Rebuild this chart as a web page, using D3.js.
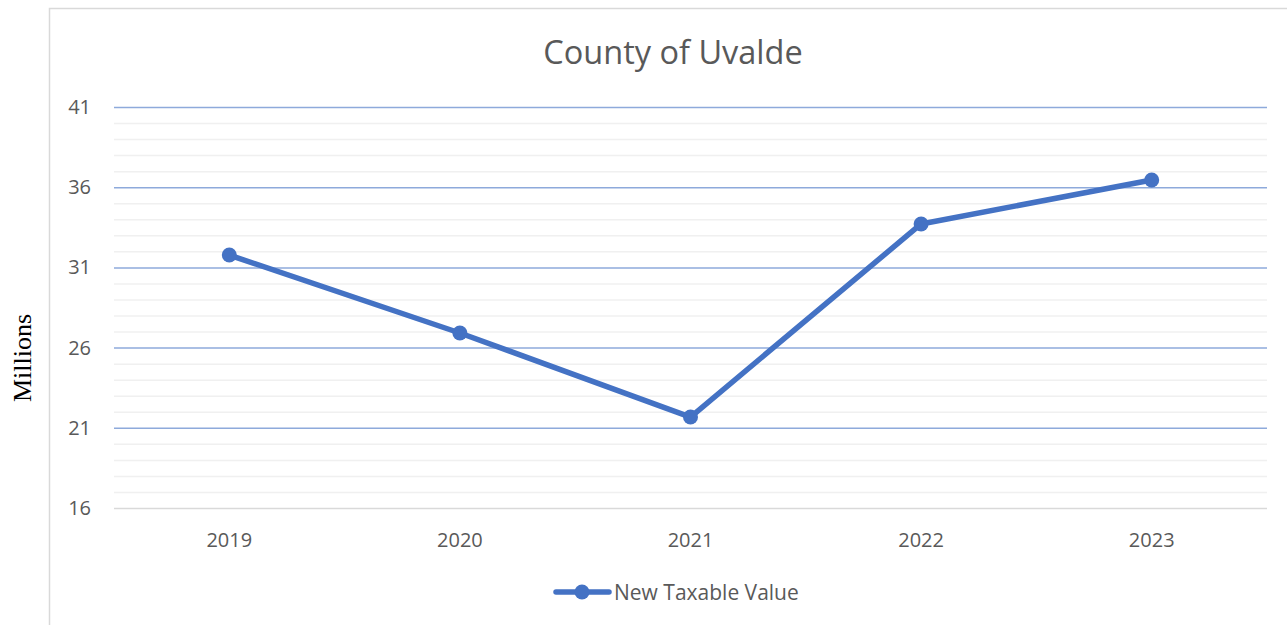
<!DOCTYPE html>
<html><head><meta charset="utf-8">
<script src="https://cdn.jsdelivr.net/npm/d3@7"></script>
<style>body{margin:0;background:#fff}svg{display:block}</style>
</head><body>
<script>
const categories = ["2019","2020","2021","2022","2023"];
const values = [31.77, 26.91, 21.67, 33.71, 36.45];
const yTicks = [16,21,26,31,36,41];
const seriesName = "New Taxable Value";
const titleText = "County of Uvalde";
const yLabel = "Millions";

const W=1287,H=625;
const FONT="'Open Sans', 'Noto Sans', sans-serif";
const svg=d3.select("body").append("svg").attr("width",W).attr("height",H);
const m={left:114,right:1267,top:107,bottom:508};
const x=d3.scaleBand().domain(categories).range([m.left,m.right]);
const y=d3.scaleLinear().domain([16,41]).range([m.bottom,m.top]);

// chart border
svg.append("path").attr("d",`M49.5,${H} V8.5 H${W}`).attr("fill","none").attr("stroke","#d9d9d9").attr("stroke-width",1.5);

// minor gridlines
const minor=d3.range(16,42,1).filter(v=>!yTicks.includes(v));
svg.append("g").call(d3.axisLeft(y).tickValues(minor).tickSize(-(m.right-m.left)).tickFormat(""))
  .attr("transform",`translate(${m.left},0)`)
  .call(g=>g.select(".domain").remove())
  .call(g=>g.selectAll("line").attr("stroke","#f0f0f0").attr("stroke-width",1.5));

// major gridlines + labels
svg.append("g").attr("transform",`translate(${m.left},0)`)
  .call(d3.axisLeft(y).tickValues(yTicks).tickSize(-(m.right-m.left)).tickPadding(23))
  .call(g=>g.select(".domain").remove())
  .call(g=>g.selectAll("line").attr("stroke",d=>d===16?"#d9d9d9":"#8eaadb").attr("stroke-width",1.5))
  .call(g=>g.selectAll("text").attr("fill","#595959").attr("font-size","20px").attr("font-family",FONT));

// x axis labels
svg.append("g").attr("transform",`translate(0,${m.bottom})`)
  .call(d3.axisBottom(x).tickSize(0).tickPadding(25))
  .call(g=>g.select(".domain").remove())
  .call(g=>g.selectAll("text").attr("fill","#595959").attr("font-size","20px").attr("font-family",FONT));

// title
svg.append("text").attr("x",673).attr("y",64).attr("text-anchor","middle")
  .attr("font-size","32.5px").attr("fill","#595959").attr("font-family",FONT).text(titleText);

// y label
svg.append("text").attr("transform",`translate(31,358) rotate(-90)`).attr("text-anchor","middle")
  .attr("font-size","26px").attr("fill","#000").attr("font-family","'Liberation Serif', serif").text(yLabel);

// line
const data=categories.map((c,i)=>({c,v:values[i]}));
const line=d3.line().x(d=>x(d.c)+x.bandwidth()/2).y(d=>y(d.v));
svg.append("path").datum(data).attr("d",line).attr("fill","none").attr("stroke","#4472c4").attr("stroke-width",5.5).attr("stroke-linejoin","round");
svg.selectAll("circle.pt").data(data).join("circle").attr("class","pt")
  .attr("cx",d=>x(d.c)+x.bandwidth()/2).attr("cy",d=>y(d.v)).attr("r",7.5).attr("fill","#4472c4");

// legend
const lg=svg.append("g");
lg.append("line").attr("x1",556).attr("x2",609).attr("y1",592).attr("y2",592).attr("stroke","#4472c4").attr("stroke-width",5.5).attr("stroke-linecap","round");
lg.append("circle").attr("cx",582).attr("cy",592).attr("r",7.5).attr("fill","#4472c4");
lg.append("text").attr("x",614).attr("y",599.5).attr("font-size","21px").attr("fill","#595959").attr("font-family",FONT).text(seriesName);
</script>
</body></html>
